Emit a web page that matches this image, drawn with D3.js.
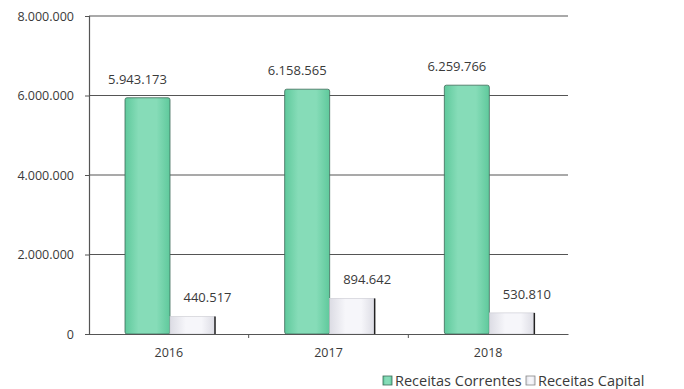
<!DOCTYPE html>
<html>
<head>
<meta charset="utf-8">
<script src="https://cdn.jsdelivr.net/npm/d3@7"></script>
<style>
  body { margin: 0; background: #fff; }
  text { font-family: "Open Sans", "DejaVu Sans", sans-serif; fill: #3a3a3a; }
</style>
</head>
<body>
<div class="chart"></div>
<script>
// chart data
var years = ["2016", "2017", "2018"];
var correntes = [5943173, 6158565, 6259766];
var capital = [440517, 894642, 530810];
var seriesNames = ["Receitas Correntes", "Receitas Capital"];
var yTicks = [0, 2000000, 4000000, 6000000, 8000000];

var svgWidth = 684;
var svgHeight = 389;
var margin = {top: 16, right: 116, bottom: 55, left: 89};
var chartWidth = svgWidth - margin.left - margin.right;
var chartHeight = svgHeight - margin.top - margin.bottom;

var fmt = function(v) {
  return v.toString().replace(/\B(?=(\d{3})+(?!\d))/g, ".");
};

var svg = d3.select(".chart")
  .append("svg")
  .attr("width", svgWidth)
  .attr("height", svgHeight);

// gradients for the 3d-ish bars
var defs = svg.append("defs");
var gGreen = defs.append("linearGradient").attr("id", "gGreen");
gGreen.append("stop").attr("offset", "0%").attr("stop-color", "#5fc99c");
gGreen.append("stop").attr("offset", "30%").attr("stop-color", "#86dcb8");
gGreen.append("stop").attr("offset", "70%").attr("stop-color", "#86dcb8");
gGreen.append("stop").attr("offset", "100%").attr("stop-color", "#5fc99c");
var gGray = defs.append("linearGradient").attr("id", "gGray");
gGray.append("stop").attr("offset", "0%").attr("stop-color", "#dcdce4");
gGray.append("stop").attr("offset", "35%").attr("stop-color", "#f6f6fa");
gGray.append("stop").attr("offset", "70%").attr("stop-color", "#f6f6fa");
gGray.append("stop").attr("offset", "100%").attr("stop-color", "#dcdce4");

var chart = svg.append("g")
  .attr("transform", `translate(${margin.left},${margin.top})`);

var x0 = d3.scaleBand().domain(years).range([0, chartWidth]);
var x1 = d3.scaleBand().domain([0, 1]).range([36, 126]);
var y = d3.scaleLinear().domain([0, 8000000]).range([chartHeight, 0]);

// gridlines
chart.selectAll(".grid")
  .data(yTicks.slice(1))
  .enter()
  .append("line")
  .attr("x1", 0)
  .attr("x2", chartWidth)
  .attr("y1", function(d) { return y(d); })
  .attr("y2", function(d) { return y(d); })
  .attr("stroke", "#555")
  .attr("stroke-width", 1.2);

// y axis
var leftAxis = d3.axisLeft(y).tickValues(yTicks).tickSize(4).tickFormat(fmt);
var yAxis = chart.append("g").call(leftAxis);
yAxis.select(".domain").attr("stroke", "#555").attr("stroke-width", 1.2);
yAxis.selectAll(".tick line").attr("stroke", "#555");
yAxis.selectAll(".tick text").attr("font-size", 12.5).attr("x", -15).style("fill", "#3a3a3a");

var groups = chart.selectAll(".grp")
  .data(years)
  .enter()
  .append("g")
  .attr("transform", function(d) { return `translate(${x0(d)},0)`; });

// green bars
groups.append("rect")
  .attr("x", x1(0))
  .attr("width", x1.bandwidth())
  .attr("y", function(d, i) { return y(correntes[i]); })
  .attr("height", function(d, i) { return chartHeight - y(correntes[i]); })
  .attr("rx", 2)
  .attr("fill", "url(#gGreen)")
  .attr("stroke", "#3e6a58")
  .attr("stroke-width", 0.8);

// capital bars
groups.append("rect")
  .attr("x", x1(1))
  .attr("width", x1.bandwidth())
  .attr("y", function(d, i) { return y(capital[i]); })
  .attr("height", function(d, i) { return chartHeight - y(capital[i]); })
  .attr("fill", "url(#gGray)")
  .attr("stroke", "#c8c8d0")
  .attr("stroke-width", 0.6);
groups.append("line")
  .attr("x1", x1(1) + x1.bandwidth())
  .attr("x2", x1(1) + x1.bandwidth())
  .attr("y1", function(d, i) { return y(capital[i]); })
  .attr("y2", chartHeight)
  .attr("stroke", "#222")
  .attr("stroke-width", 1.5);

// value labels
groups.append("text")
  .attr("x", x1(0) + x1.bandwidth() / 2 - 10)
  .attr("y", function(d, i) { return y(correntes[i]) - 14; })
  .attr("text-anchor", "middle")
  .attr("font-size", 13)
  .text(function(d, i) { return fmt(correntes[i]); });
groups.append("text")
  .attr("x", x1(1) + x1.bandwidth() / 2 + 15)
  .attr("y", function(d, i) { return y(capital[i]) - 14; })
  .attr("text-anchor", "middle")
  .attr("font-size", 13)
  .text(function(d, i) { return fmt(capital[i]); });

// x axis
var bottomAxis = d3.axisBottom(x0).tickSize(0).tickPadding(14);
var xAxis = chart.append("g")
  .attr("transform", `translate(0,${chartHeight})`)
  .call(bottomAxis);
xAxis.select(".domain").attr("stroke", "#555").attr("stroke-width", 1.2);
xAxis.selectAll(".tick text").attr("font-size", 12.5).style("fill", "#3a3a3a");
xAxis.selectAll(".sep")
  .data(years.slice(1))
  .enter()
  .append("line")
  .attr("x1", function(d) { return x0(d); })
  .attr("x2", function(d) { return x0(d); })
  .attr("y1", 0)
  .attr("y2", 4)
  .attr("stroke", "#555");

// legend
var legend = svg.append("g").attr("transform", "translate(383,386)");
var legX = [0, 143];
var legFill = ["url(#gGreen)", "url(#gGray)"];
var legStroke = ["#3e6a58", "#888"];
seriesNames.forEach(function(name, i) {
  legend.append("rect")
    .attr("x", legX[i])
    .attr("y", -10)
    .attr("width", 9)
    .attr("height", 9)
    .attr("fill", legFill[i])
    .attr("stroke", legStroke[i])
    .attr("stroke-width", 0.8);
  legend.append("text")
    .attr("x", legX[i] + 12)
    .attr("y", 0)
    .attr("font-size", 14.5)
    .text(name);
});
</script>
</body>
</html>
